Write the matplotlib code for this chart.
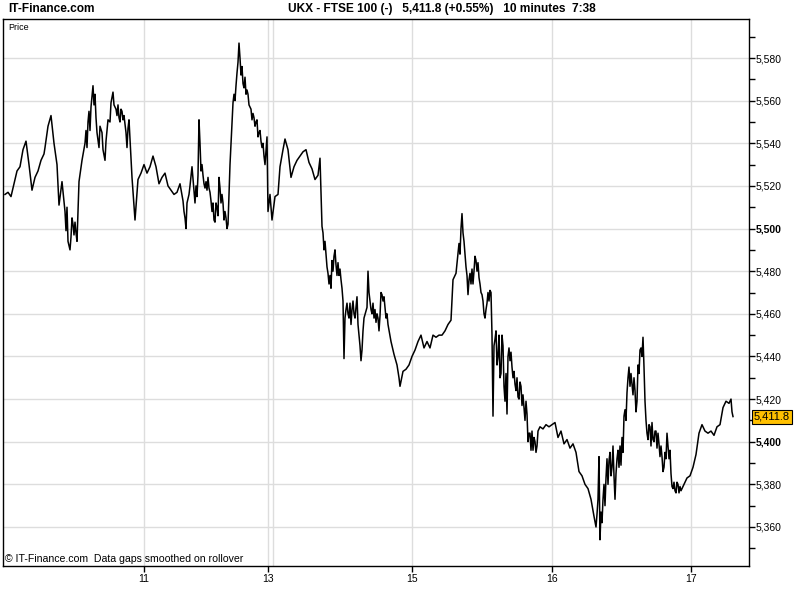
import matplotlib
matplotlib.use("Agg")
import matplotlib.pyplot as plt
from matplotlib.ticker import FixedLocator, MultipleLocator, FuncFormatter

plt.rcParams['font.family'] = ['Liberation Sans', 'DejaVu Sans']

# time axis position (bar clock units) and FTSE 100 price: main path
t = [5, 8, 11, 14, 17, 20, 23, 26, 29, 32, 35, 38, 41, 44, 45, 48, 51, 54, 57, 59,
     62, 65, 68, 70, 73, 76, 77, 79, 82, 85, 88, 91, 93, 96, 99, 102, 105, 108, 111, 113,
     116, 119, 122, 125, 127, 129, 132, 135, 138, 141, 144, 147, 150, 153, 156, 159, 162, 165, 168, 171,
     174, 177, 180, 183, 186, 189, 192, 195, 198, 199, 202, 205, 208, 211, 214, 217, 219, 222, 225, 228,
     230, 233, 236, 239, 241, 244, 247, 250, 253, 256, 259, 262, 265, 267, 268, 270, 272, 275, 278, 280,
     283, 285, 288, 291, 294, 297, 300, 303, 306, 309, 312, 315, 318, 320, 322, 325, 328, 331, 334, 336,
     339, 341, 343, 344, 346, 349, 352, 355, 357, 359, 361, 364, 367, 368, 371, 374, 377, 379, 382, 385,
     388, 391, 394, 397, 399, 400, 403, 406, 409, 412, 415, 418, 421, 424, 427, 430, 433, 436, 439, 442,
     445, 448, 451, 453, 456, 459, 462, 464, 466, 468, 470, 473, 476, 479, 482, 485, 487, 490, 492, 493,
     495, 498, 501, 503, 505, 507, 509, 512, 515, 518, 521, 524, 527, 529, 531, 534, 537, 540, 543, 546,
     549, 552, 555, 558, 561, 564, 567, 570, 573, 576, 579, 582, 585, 588, 591, 594, 596, 598, 599, 600,
     603, 606, 609, 612, 615, 618, 621, 624, 627, 629, 632, 634, 637, 640, 643, 645, 647, 650, 653, 656,
     659, 662, 664, 667, 670, 672, 675, 678, 681, 684, 687, 690, 693, 696, 699, 702, 705, 708, 711, 714,
     717, 720, 723, 726, 729, 731, 732, 733]
price = [5516, 5517, 5515, 5521, 5527, 5529, 5537, 5541, 5530, 5518, 5524, 5527, 5532, 5535, 5538, 5548, 5553, 5540, 5530, 5511,
         5522, 5508, 5494, 5490, 5502, 5498, 5494, 5522, 5532, 5540, 5550, 5557, 5567, 5552, 5538, 5545, 5532, 5551, 5559, 5564,
         5556, 5552, 5555, 5549, 5538, 5551, 5524, 5504, 5523, 5526, 5530, 5526, 5529, 5534, 5529, 5521, 5524, 5526, 5520, 5518,
         5516, 5517, 5521, 5513, 5500, 5516, 5529, 5512, 5525, 5551, 5530, 5519, 5524, 5513, 5504, 5510, 5524, 5516, 5508, 5502,
         5530, 5559, 5567, 5587, 5572, 5566, 5565, 5557, 5554, 5550, 5545, 5538, 5530, 5543, 5508, 5516, 5504, 5515, 5516, 5529,
         5537, 5542, 5537, 5524, 5529, 5532, 5534, 5536, 5537, 5531, 5528, 5523, 5525, 5533, 5501, 5494, 5479, 5472, 5487, 5483,
         5478, 5476, 5466, 5439, 5462, 5458, 5462, 5458, 5468, 5450, 5438, 5458, 5463, 5480, 5462, 5458, 5460, 5452, 5469, 5463,
         5455, 5447, 5441, 5436, 5430, 5426, 5433, 5434, 5436, 5440, 5443, 5447, 5450, 5444, 5447, 5444, 5450, 5449, 5450, 5450,
         5452, 5455, 5457, 5476, 5479, 5493, 5507, 5494, 5482, 5469, 5479, 5474, 5485, 5477, 5469, 5458, 5465, 5471, 5450, 5412,
         5448, 5440, 5432, 5445, 5419, 5413, 5444, 5435, 5427, 5421, 5426, 5416, 5413, 5404, 5396, 5402, 5398, 5407, 5406, 5408,
         5407, 5408, 5409, 5402, 5405, 5399, 5401, 5397, 5399, 5395, 5386, 5384, 5380, 5378, 5373, 5365, 5360, 5373, 5393, 5354,
         5373, 5383, 5391, 5388, 5373, 5396, 5389, 5412, 5423, 5435, 5427, 5430, 5419, 5443, 5449, 5419, 5404, 5407, 5401, 5405,
         5399, 5393, 5388, 5404, 5396, 5379, 5377, 5380, 5377, 5380, 5383, 5384, 5388, 5394, 5404, 5408, 5405, 5404, 5405, 5403,
         5407, 5408, 5416, 5419, 5418, 5420, 5414, 5411.8]

# intermediate ticks read in the busy stretches
t_detail = [66, 67, 71, 72, 74, 75, 86, 87, 89, 90, 94, 95, 97, 100, 103, 106, 110, 114, 117, 118,
            120, 121, 123, 124, 126, 128, 184, 185, 187, 190, 196, 197, 200, 201, 203, 204, 206, 207, 209, 210,
            212, 213, 215, 216, 218, 220, 221, 223, 224, 226, 227, 234, 235, 237, 238, 240, 242, 243, 245, 246,
            248, 249, 251, 252, 254, 255, 257, 258, 260, 261, 263, 264, 323, 324, 326, 327, 329, 330, 332, 333,
            335, 337, 338, 340, 342, 345, 347, 348, 350, 351, 353, 354, 356, 358, 360, 362, 363, 369, 370, 372,
            373, 375, 376, 378, 380, 381, 383, 384, 386, 387, 460, 461, 463, 465, 467, 469, 471, 472, 474, 475,
            477, 478, 480, 481, 483, 484, 486, 488, 489, 491, 494, 496, 497, 499, 500, 502, 504, 506, 508, 510,
            511, 513, 514, 516, 517, 519, 520, 522, 523, 525, 526, 528, 530, 532, 533, 535, 536, 538, 597, 601,
            602, 604, 605, 607, 608, 610, 611, 613, 614, 616, 617, 619, 620, 622, 623, 625, 626, 628, 630, 631,
            633, 635, 636, 638, 639, 641, 642, 644, 646, 648, 649, 651, 652, 654, 655, 657, 658, 660, 661, 663,
            665, 666, 668, 669, 671, 673, 674, 676, 677, 679, 680]
price_detail = [5499, 5510, 5496, 5505, 5497, 5503, 5546, 5538, 5555, 5546, 5558, 5563, 5545, 5548, 5537, 5541, 5550, 5558, 5553, 5558,
                5550, 5556, 5551, 5553, 5545, 5547, 5508, 5505, 5512, 5520, 5520, 5515, 5540, 5527, 5525, 5521, 5522, 5518, 5519, 5517,
                5508, 5512, 5503, 5512, 5506, 5519, 5512, 5512, 5504, 5505, 5500, 5563, 5560, 5573, 5578, 5580, 5576, 5568, 5571, 5563,
                5563, 5558, 5556, 5551, 5552, 5548, 5551, 5543, 5546, 5541, 5540, 5534, 5498, 5490, 5488, 5482, 5474, 5478, 5485, 5480,
                5490, 5478, 5484, 5481, 5472, 5458, 5465, 5460, 5465, 5455, 5466, 5460, 5463, 5455, 5445, 5443, 5452, 5470, 5466, 5460,
                5465, 5462, 5456, 5458, 5459, 5470, 5466, 5468, 5458, 5460, 5488, 5500, 5498, 5488, 5478, 5476, 5474, 5481, 5480, 5487,
                5480, 5484, 5474, 5470, 5466, 5460, 5462, 5470, 5466, 5470, 5445, 5452, 5436, 5450, 5430, 5450, 5426, 5432, 5440, 5438,
                5442, 5430, 5433, 5424, 5430, 5420, 5428, 5417, 5422, 5410, 5419, 5400, 5404, 5405, 5396, 5400, 5395, 5405, 5366, 5367,
                5362, 5380, 5370, 5392, 5380, 5395, 5384, 5398, 5384, 5385, 5392, 5388, 5398, 5402, 5395, 5415, 5410, 5430, 5426, 5432,
                5422, 5424, 5414, 5436, 5432, 5444, 5440, 5435, 5410, 5401, 5408, 5398, 5409, 5400, 5405, 5397, 5404, 5393, 5398, 5386,
                5395, 5392, 5398, 5392, 5385, 5378, 5381, 5376, 5381, 5376, 5379]

day_ticks = [144, 268, 412, 552, 691]
day_labels = ['11', '13', '15', '16', '17']
day_grid = [144, 268, 273, 412, 552, 691]
last_price = 5411.8
title = "UKX - FTSE 100 (-)   5,411.8 (+0.55%)   10 minutes  7:38"

series = sorted(zip(t + t_detail, price + price_detail))
xs = [a for a, _ in series]
ys = [b for _, b in series]

fig = plt.figure(figsize=(8, 6), dpi=100)
ax = fig.add_axes([3 / 800, 34 / 600, 746 / 800, 547 / 600])

ax.plot(xs, ys, color='black', lw=1.1, zorder=3)

ax.set_xlim(3, 749)
ax.set_ylim(5341.7, 5598.3)

for g in day_grid:
    ax.axvline(g, color='#dddddd', lw=1, zorder=1)
ax.yaxis.set_major_locator(MultipleLocator(20))
ax.yaxis.set_minor_locator(MultipleLocator(10))
ax.grid(axis='y', which='major', color='#dddddd', lw=1, zorder=1)

ax.yaxis.tick_right()
ax.yaxis.set_major_formatter(FuncFormatter(lambda v, p: f"{v:,.0f}"))
ax.tick_params(axis='y', which='major', direction='out', length=4, width=1,
               labelsize=7.5, pad=1, colors='black')
ax.tick_params(axis='y', which='minor', direction='out', length=4, width=1)

ax.xaxis.set_major_locator(FixedLocator(day_ticks))
ax.set_xticklabels(day_labels)
ax.tick_params(axis='x', direction='out', length=4, width=1, labelsize=7.5, pad=2)

for s in ax.spines.values():
    s.set_color('black')
    s.set_linewidth(1)

fig.canvas.draw()
for lbl in ax.get_yticklabels():
    try:
        v = float(lbl.get_text().replace(',', ''))
        if round(v) % 100 == 0:
            lbl.set_fontweight('bold')
    except ValueError:
        pass

fig.text(8 / 800, 1 - 9 / 600, "IT-Finance.com", fontsize=8.6, fontweight='bold',
         ha='left', va='center')
fig.text(288 / 800, 1 - 9 / 600, title, fontsize=8.6, fontweight='bold',
         ha='left', va='center')
ax.text(0.007, 0.993, "Price", transform=ax.transAxes, fontsize=6.5,
        ha='left', va='top')
ax.text(0.003, 0.004, "\u00a9 IT-Finance.com  Data gaps smoothed on rollover",
        transform=ax.transAxes, fontsize=7.6, ha='left', va='bottom')

ax.annotate(f"{last_price:,.1f}", xy=(1, last_price), xycoords=('axes fraction', 'data'),
            xytext=(3.5, 0), textcoords='offset points', fontsize=8, ha='left', va='center',
            bbox=dict(boxstyle='square,pad=0.18', fc='#ffc000', ec='black', lw=0.8),
            annotation_clip=False)

fig.savefig('out.png', dpi=100)
